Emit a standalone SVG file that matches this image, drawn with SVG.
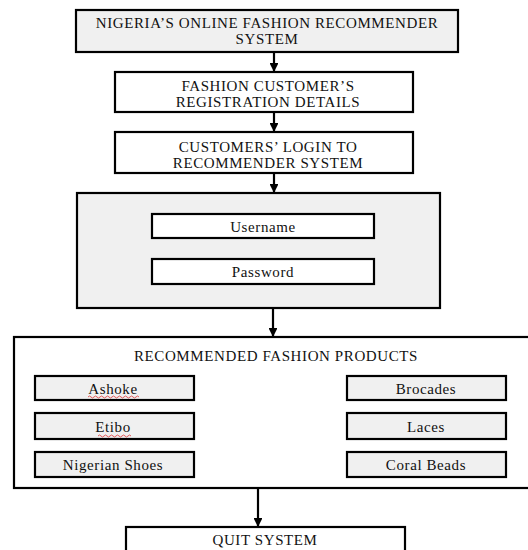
<svg xmlns="http://www.w3.org/2000/svg" width="528" height="550" viewBox="0 0 528 550">
<defs>
<marker id="ah" viewBox="0 0 10 10" refX="9" refY="5" markerWidth="4" markerHeight="4" orient="auto">
<path d="M0,0 L10,5 L0,10 z" fill="#000"/>
</marker>
<style>
.box{stroke:#000;stroke-width:2.2}
.g{fill:#f0f0f0}
.w{fill:#fff}
text{font-family:"Liberation Serif","Times New Roman",serif;font-size:15px;letter-spacing:0.6px;fill:#111;text-anchor:middle}
.c{stroke:#000;stroke-width:2.2;fill:none}
.sq{stroke:#d33;stroke-width:0.8;fill:none}
</style>
</defs>
<rect width="528" height="550" fill="#fff"/>
<g id="connectors">
<line class="c" x1="274" y1="52" x2="274" y2="71" marker-end="url(#ah)"/>
<line class="c" x1="274" y1="112" x2="274" y2="131" marker-end="url(#ah)"/>
<line class="c" x1="274" y1="173" x2="274" y2="192" marker-end="url(#ah)"/>
<line class="c" x1="269" y1="238" x2="269" y2="259"/>
<line class="c" x1="273" y1="308" x2="273" y2="336" marker-end="url(#ah)"/>
<line class="c" x1="258" y1="488" x2="258" y2="526" marker-end="url(#ah)"/>
</g>
<g id="n-title">
<rect class="box g" x="76" y="10" width="382" height="42"/>
<text x="267" y="28">NIGERIA’S ONLINE FASHION RECOMMENDER</text>
<text x="267" y="44">SYSTEM</text>
</g>
<g id="n-registration">
<rect class="box w" x="115" y="72" width="298" height="40"/>
<text x="268" y="91">FASHION CUSTOMER’S</text>
<text x="268" y="107">REGISTRATION DETAILS</text>
</g>
<g id="n-login">
<rect class="box w" x="115" y="132" width="298" height="41"/>
<text x="268" y="152">CUSTOMERS’ LOGIN TO</text>
<text x="268" y="168">RECOMMENDER SYSTEM</text>
</g>
<g id="n-credentials">
<rect class="box g" x="77" y="193" width="363" height="115"/>
</g>
<g id="n-username">
<rect class="box w" x="152" y="214" width="222" height="24"/>
<text x="263" y="232">Username</text>
</g>
<g id="n-password">
<rect class="box w" x="152" y="259" width="222" height="25"/>
<text x="263" y="277">Password</text>
</g>
<g id="n-products">
<rect class="box w" x="14" y="337" width="520" height="151"/>
<text x="276" y="361">RECOMMENDED FASHION PRODUCTS</text>
</g>
<g id="n-ashoke">
<rect class="box g" x="35" y="376" width="159" height="24"/>
<text x="113" y="394">Ashoke</text>
<path class="sq" d="M88,397 q1.5,-2 3,0 t3,0 t3,0 t3,0 t3,0 t3,0 t3,0 t3,0 t3,0 t3,0 t3,0 t3,0 t3,0 t3,0 t3,0 t3,0 t3,0"/>
</g>
<g id="n-etibo">
<rect class="box g" x="35" y="413" width="159" height="26"/>
<text x="113" y="432">Etibo</text>
<path class="sq" d="M98,436 q1.5,-2 3,0 t3,0 t3,0 t3,0 t3,0 t3,0 t3,0 t3,0 t3,0 t3,0 t3,0"/>
</g>
<g id="n-shoes">
<rect class="box g" x="35" y="452" width="159" height="25"/>
<text x="113" y="470">Nigerian Shoes</text>
</g>
<g id="n-brocades">
<rect class="box g" x="347" y="376" width="159" height="24"/>
<text x="426" y="394">Brocades</text>
</g>
<g id="n-laces">
<rect class="box g" x="347" y="413" width="159" height="26"/>
<text x="426" y="432">Laces</text>
</g>
<g id="n-coral">
<rect class="box g" x="347" y="452" width="159" height="25"/>
<text x="426" y="470">Coral Beads</text>
</g>
<g id="n-quit">
<rect class="box w" x="126" y="527" width="279" height="40"/>
<text x="265" y="545">QUIT SYSTEM</text>
</g>
</svg>
